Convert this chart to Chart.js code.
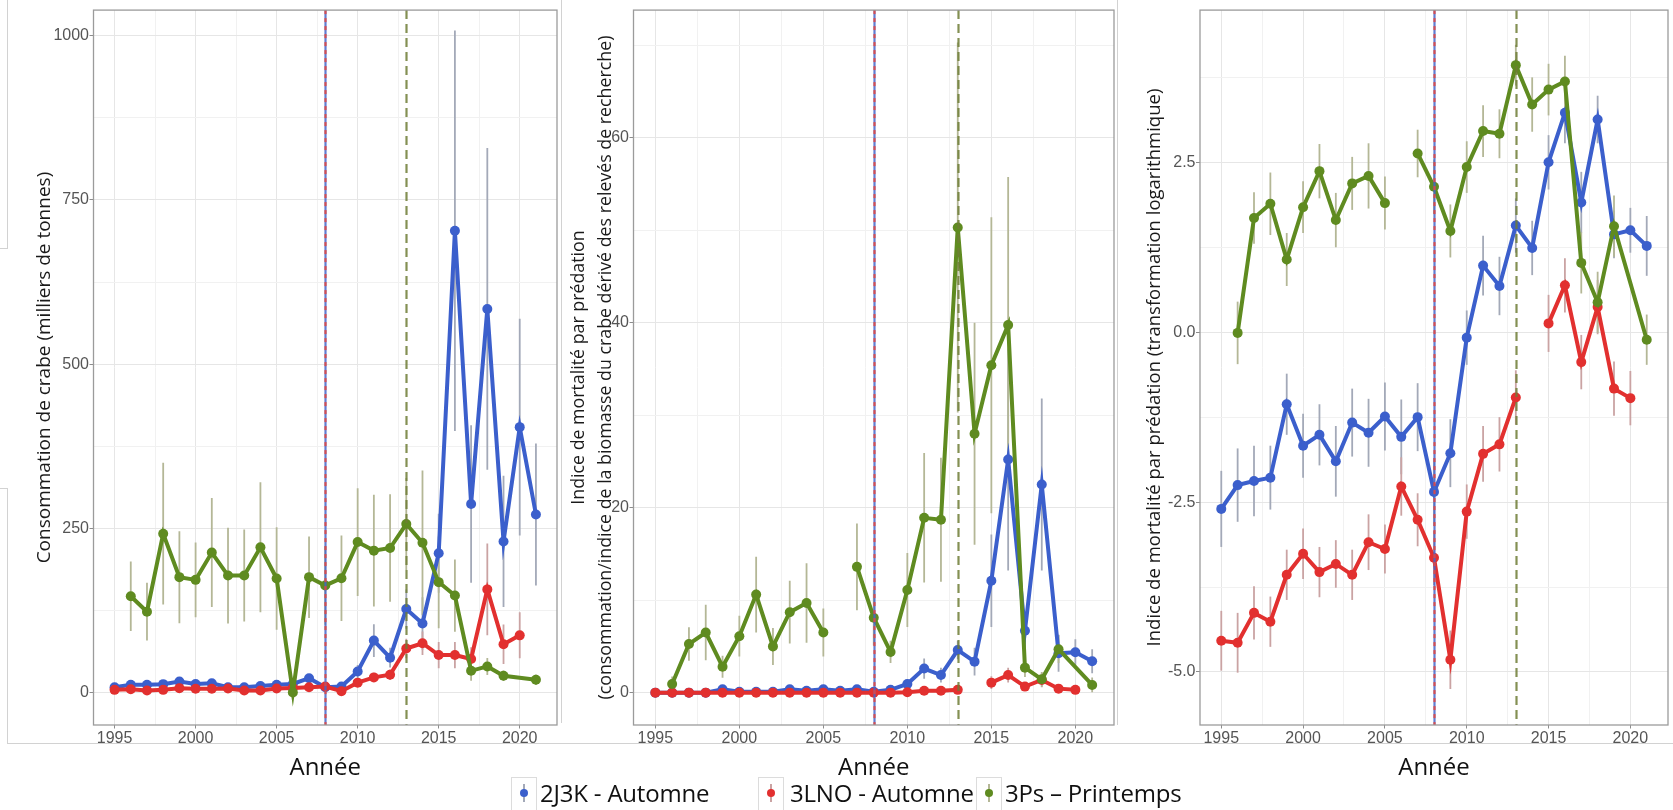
<!DOCTYPE html>
<html>
<head>
<meta charset="utf-8">
<script src="https://cdn.jsdelivr.net/npm/chart.js@4.4.0/dist/chart.umd.min.js"></script>
<style>
  html, body { margin: 0; padding: 0; background: #fff; }
  #page { position: relative; width: 1673px; height: 810px; overflow: hidden; font-family: 'Open Sans', sans-serif; }
  canvas { position: absolute; top: 0; }
  .rule { position: absolute; background: #d2d2d2; }
  .key { position: absolute; top: 777px; height: 34px; border: 1px solid #dcdcdc; box-sizing: border-box; background: #fff; }
  .key .bar { position: absolute; width: 2px; top: 6px; height: 18px; margin-left: -1px; }
  .key .dot { position: absolute; width: 8px; height: 8px; top: 11px; margin-left: -4px; border-radius: 50%; }
  .key-label { position: absolute; top: 781px; font-size: 24px; line-height: 24px; letter-spacing: -0.2px; color: #111; white-space: nowrap; }
</style>
</head>
<body>
<div id="page">
  <!-- image borders around the three panels -->
  <div class="rule" style="left:7px; top:0; width:1px; height:248px"></div>
  <div class="rule" style="left:0; top:248px; width:8px; height:1px"></div>
  <div class="rule" style="left:0; top:488px; width:8px; height:1px"></div>
  <div class="rule" style="left:7px; top:488px; width:1px; height:256px"></div>
  <div class="rule" style="left:7px; top:743px; width:1666px; height:1px"></div>
  <div class="rule" style="left:561px; top:0; width:1px; height:723px"></div>
  <div class="rule" style="left:1117px; top:0; width:1px; height:725px"></div>

  <canvas id="consommation" width="562" height="790" style="left:0"></canvas>
  <canvas id="mortalite" width="557" height="790" style="left:562px"></canvas>
  <canvas id="logMortalite" width="555" height="790" style="left:1118px"></canvas>

  <div id="legend"></div>
</div>

<script>
// Années de relevé par série (3Ps : pas de relevé en 2020)
const yearsBlue = [1995, 1996, 1997, 1998, 1999, 2000, 2001, 2002, 2003, 2004, 2005, 2006, 2007, 2008,
  2009, 2010, 2011, 2012, 2013, 2014, 2015, 2016, 2017, 2018, 2019, 2020, 2021];
const yearsRed = [1995, 1996, 1997, 1998, 1999, 2000, 2001, 2002, 2003, 2004, 2005, 2006, 2007, 2008,
  2009, 2010, 2011, 2012, 2013, 2014, 2015, 2016, 2017, 2018, 2019, 2020];
const yearsGreen = [1996, 1997, 1998, 1999, 2000, 2001, 2002, 2003, 2004, 2005, 2006, 2007, 2008,
  2009, 2010, 2011, 2012, 2013, 2014, 2015, 2016, 2017, 2018, 2019, 2021];

// Consommation de crabe (milliers de tonnes) et demi-intervalles
const consBlue = [8, 11.7, 11.7, 12.7, 16.7, 13, 14, 8, 8, 10, 11.7, 13, 21.8, 8, 9, 32, 79, 53, 127, 105,
  212, 703, 287, 584, 230, 404, 271];
const consBlueErr = [3, 4, 4, 4, 5, 4, 5, 3, 3, 3, 4, 4, 6, 3, 4, 10, 25, 15, 30, 40, 60, 305, 120, 245, 100, 165, 108];
const consRed = [4, 5, 3, 4, 6.6, 5.6, 5.6, 6, 3, 3, 6, 7, 8, 9, 2, 15, 23, 27, 67, 75, 57, 57, 51, 157, 73.5, 87];
const consRedErr = [2, 2, 2, 2, 2, 2, 2, 2, 2, 2, 2, 2, 3, 3, 2, 5, 7, 8, 15, 18, 20, 20, 18, 70, 30, 35];
const consGreen = [146.6, 123, 241.8, 175.6, 171.5, 213, 178, 178, 221, 173.6, 0, 175.6, 163, 174, 229, 216,
  220, 256.5, 228, 168, 147.6, 33, 39.7, 25.5, 19.3];
const consGreenErr = [53, 44, 108, 70, 57, 83, 73, 70, 99, 78, 0, 62, 60, 65, 82, 85, 82, 70, 110, 70, 55, 15, 13, 8, 8];

// Indice de mortalité par prédation
const mortBlue = [0, 0, 0, 0, 0.36, 0.1, 0.1, 0.1, 0.36, 0.2, 0.36, 0.2, 0.36, 0.1, 0.3, 0.94, 2.6, 1.9, 4.6,
  3.35, 12.1, 25.2, 6.7, 22.5, 4.25, 4.36, 3.4];
const mortBlueErr = [0.1, 0.1, 0.1, 0.1, 0.2, 0.1, 0.1, 0.1, 0.2, 0.1, 0.2, 0.1, 0.2, 0.1, 0.2, 0.5, 1.1, 0.8, 1,
  1.5, 5, 12, 2, 9.3, 2, 1.4, 1.3];
const mortRed = [0, 0, 0, 0, 0, 0, 0, 0, 0, 0, 0, 0, 0, 0, 0, 0.05, 0.2, 0.2, 0.3, null, 1.08, 1.9, 0.65, 1.37, 0.43, 0.3];
const mortRedErr = [0.05, 0.05, 0.05, 0.05, 0.05, 0.05, 0.05, 0.05, 0.05, 0.05, 0.05, 0.05, 0.05, 0.05, 0.05,
  0.05, 0.1, 0.1, 0.1, null, 0.7, 0.8, 0.4, 0.8, 0.3, 0.2];
const mortGreen = [0.94, 5.26, 6.5, 2.8, 6.1, 10.6, 5.0, 8.7, 9.7, 6.5, null, 13.6, 8.1, 4.4, 11.1, 18.9, 18.7,
  50.3, 28.0, 35.4, 39.75, 2.7, 1.44, 4.7, 0.83];
const mortGreenErr = [0.8, 1.8, 3, 1.2, 2.2, 4.1, 2.0, 3.4, 4.3, 2.6, null, 4.7, 3, 1.2, 4, 7, 6.7, 20, 12, 16, 16,
  1, 0.8, 1.5, 0.8];

// Indice de mortalité, transformation logarithmique
const logBlue = [-2.60, -2.25, -2.19, -2.14, -1.06, -1.67, -1.51, -1.90, -1.33, -1.48, -1.24, -1.54, -1.25, -2.35,
  -1.78, -0.08, 0.98, 0.68, 1.57, 1.24, 2.50, 3.23, 1.91, 3.13, 1.44, 1.50, 1.27];
const logBlueErr = [0.56, 0.54, 0.52, 0.47, 0.45, 0.47, 0.45, 0.52, 0.5, 0.5, 0.5, 0.55, 0.5, 0.5, 0.5, 0.4, 0.44,
  0.43, 0.4, 0.4, 0.4, 0.45, 0.45, 0.35, 0.35, 0.33, 0.44];
const logRed = [-4.54, -4.57, -4.13, -4.26, -3.57, -3.26, -3.53, -3.41, -3.57, -3.09, -3.19, -2.27, -2.76, -3.32,
  -4.82, -2.64, -1.79, -1.65, -0.96, null, 0.13, 0.69, -0.44, 0.37, -0.83, -0.97];
const logRedErr = [0.44, 0.44, 0.39, 0.37, 0.37, 0.37, 0.37, 0.35, 0.37, 0.41, 0.36, 0.43, 0.39, 0.4, 0.43, 0.4,
  0.41, 0.4, 0.4, null, 0.42, 0.4, 0.4, 0.4, 0.4, 0.4];
const logGreen = [-0.01, 1.68, 1.89, 1.07, 1.84, 2.37, 1.65, 2.19, 2.30, 1.90, null, 2.63, 2.14, 1.49, 2.43, 2.96,
  2.92, 3.93, 3.35, 3.57, 3.69, 1.02, 0.44, 1.56, -0.11];
const logGreenErr = [0.46, 0.38, 0.46, 0.39, 0.38, 0.4, 0.4, 0.39, 0.48, 0.39, null, 0.35, 0.4, 0.39, 0.38, 0.38,
  0.36, 0.3, 0.4, 0.38, 0.38, 0.45, 0.45, 0.45, 0.37];

// Graduations
const yearTicks = [1995, 2000, 2005, 2010, 2015, 2020];
const consTicks = [0, 250, 500, 750, 1000];
const mortTicks = [0, 20, 40, 60];
const logTicks = [-5.0, -2.5, 0.0, 2.5];

// Lignes verticales de référence
const solidLineYear = 2008;
const dashedLineYear = 2013;

const seriesNames = ['2J3K - Automne', '3LNO - Automne', '3Ps – Printemps'];

const BLUE = '#3b5fcc', RED = '#e2302f', GREEN = '#5f8b20';
const BLUE_ERR = '#a3a9b8', RED_ERR = '#caa3a3', GREEN_ERR = '#b4b796';
const X_MIN = 1993.7, X_MAX = 2022.3;
const TEXT_FONT = "'Open Sans', sans-serif";
const TICK_FONT = { family: "'Liberation Sans', Arial, sans-serif", size: 16 };
const TICK_COLOR = '#555555';

// major ticks + minor ones halfway between, kept inside [min, max]
function gridValues(majors, min, max) {
  const half = (majors[1] - majors[0]) / 2;
  const out = [];
  for (let v = majors[0] - half; v <= majors[majors.length - 1] + half + 1e-9; v += half) {
    const r = Math.round(v * 1000) / 1000;
    if (r >= min && r <= max) out.push(r);
  }
  return out;
}

function isMajor(v, majors) {
  return majors.some(m => Math.abs(m - v) < 1e-6);
}

function series(label, years, values, errors, color, errColor, order) {
  return {
    label, order,
    data: years.map((x, i) => ({ x, y: values[i] })),
    errors, errorColor: errColor,
    borderColor: color, backgroundColor: color,
    pointBackgroundColor: color,
    spanGaps: false
  };
}

const errorBars = {
  id: 'errorBars',
  beforeDatasetsDraw(chart) {
    const { ctx, chartArea: a } = chart;
    const x = chart.scales.x, y = chart.scales.y;
    ctx.save();
    ctx.beginPath();
    ctx.rect(a.left, a.top, a.right - a.left, a.bottom - a.top);
    ctx.clip();
    chart.data.datasets.forEach(ds => {
      ctx.strokeStyle = ds.errorColor;
      ctx.lineWidth = 1.8;
      ds.data.forEach((p, i) => {
        const e = ds.errors[i];
        if (p.y == null || e == null || e === 0) return;
        const px = x.getPixelForValue(p.x);
        ctx.beginPath();
        ctx.moveTo(px, y.getPixelForValue(p.y - e));
        ctx.lineTo(px, y.getPixelForValue(p.y + e));
        ctx.stroke();
      });
    });
    ctx.restore();
  }
};

const refLines = {
  id: 'refLines',
  afterDatasetsDraw(chart) {
    const { ctx, chartArea: a } = chart;
    const x = chart.scales.x;
    const draw = (year, color, dash, width) => {
      const px = Math.round(x.getPixelForValue(year)) + 0.5;
      ctx.strokeStyle = color;
      ctx.lineWidth = width;
      ctx.setLineDash(dash);
      ctx.beginPath();
      ctx.moveTo(px, a.top);
      ctx.lineTo(px, a.bottom);
      ctx.stroke();
    };
    ctx.save();
    ctx.globalAlpha = 0.85;
    draw(solidLineYear, '#4566c9', [], 2.2);
    draw(solidLineYear, '#e8473d', [4, 4], 2.2);
    draw(dashedLineYear, '#6e7d35', [9, 5], 2.2);
    ctx.restore();
  }
};

const frame = {
  id: 'frame',
  afterDraw(chart) {
    const { ctx, chartArea: a } = chart;
    ctx.save();
    ctx.strokeStyle = '#9b9b9b';
    ctx.lineWidth = 1.3;
    ctx.strokeRect(a.left, a.top, a.right - a.left, a.bottom - a.top);
    ctx.restore();
  }
};

function makePanel(id, cfg) {
  const xGrid = gridValues(yearTicks, X_MIN, X_MAX);
  const yGrid = gridValues(cfg.ticks, cfg.min, cfg.max);
  const gridColor = majors => c => isMajor(c.tick.value, majors) ? '#e6e6e6' : '#f1f1f1';
  const markColor = majors => c => isMajor(c.tick.value, majors) ? '#8c8c8c' : 'rgba(0,0,0,0)';

  return new Chart(document.getElementById(id), {
    type: 'line',
    data: { datasets: cfg.datasets },
    options: {
      responsive: false,
      animation: false,
      events: [],
      layout: { padding: { top: 10, right: cfg.padRight, left: 0, bottom: 0 } },
      plugins: { legend: { display: false }, tooltip: { enabled: false } },
      elements: {
        line: { borderWidth: 4, tension: 0 },
        point: { radius: 5, borderWidth: 0 }
      },
      scales: {
        x: {
          type: 'linear', min: X_MIN, max: X_MAX,
          afterBuildTicks: s => { s.ticks = xGrid.map(v => ({ value: v })); },
          afterFit: s => { s.height = 65; },
          ticks: {
            autoSkip: false, maxRotation: 0, padding: 0,
            color: TICK_COLOR, font: TICK_FONT,
            callback: v => isMajor(v, yearTicks) ? String(Math.round(v)) : ''
          },
          grid: { color: gridColor(yearTicks), tickColor: markColor(yearTicks), tickLength: 3.5, lineWidth: 1 },
          border: { display: false },
          title: {
            display: true, text: 'Année', color: '#111',
            font: { family: TEXT_FONT, size: 24 },
            padding: { top: 0, bottom: 7.5 }
          }
        },
        y: {
          type: 'linear', min: cfg.min, max: cfg.max,
          afterBuildTicks: s => { s.ticks = yGrid.map(v => ({ value: v })); },
          afterFit: s => { s.width = cfg.axisWidth; },
          ticks: {
            autoSkip: false, padding: 0.5,
            color: TICK_COLOR, font: TICK_FONT,
            callback: v => isMajor(v, cfg.ticks) ? cfg.format(v) : ''
          },
          grid: { color: gridColor(cfg.ticks), tickColor: markColor(cfg.ticks), tickLength: 4, lineWidth: 1 },
          border: { display: false },
          title: {
            display: true, text: cfg.title, color: '#1a1a1a',
            font: { family: TEXT_FONT, size: cfg.titleSize, lineHeight: cfg.titleLineHeight },
            padding: { top: cfg.titlePad, bottom: 0 }
          }
        }
      }
    },
    plugins: [errorBars, refLines, frame]
  });
}

makePanel('consommation', {
  min: -49.5, max: 1039, ticks: consTicks, format: v => String(v),
  axisWidth: 93.5, padRight: 2, titlePad: 33.6, titleSize: 19, titleLineHeight: 1.2,
  title: 'Consommation de crabe (milliers de tonnes)',
  datasets: [
    series(seriesNames[0], yearsBlue, consBlue, consBlueErr, BLUE, BLUE_ERR, 3),
    series(seriesNames[1], yearsRed, consRed, consRedErr, RED, RED_ERR, 2),
    series(seriesNames[2], yearsGreen, consGreen, consGreenErr, GREEN, GREEN_ERR, 1)
  ]
});

makePanel('mortalite', {
  min: -3.5, max: 73.8, ticks: mortTicks, format: v => String(v),
  axisWidth: 71.5, padRight: 2.5, titlePad: 3.6, titleSize: 17.8, titleLineHeight: 1.5,
  title: ['Indice de mortalité par prédation',
    '(consommation/indice de la biomasse du crabe dérivé des relevés de recherche)'],
  datasets: [
    series(seriesNames[0], yearsBlue, mortBlue, mortBlueErr, BLUE, BLUE_ERR, 3),
    series(seriesNames[1], yearsRed, mortRed, mortRedErr, RED, RED_ERR, 2),
    series(seriesNames[2], yearsGreen, mortGreen, mortGreenErr, GREEN, GREEN_ERR, 1)
  ]
});

makePanel('logMortalite', {
  min: -5.78, max: 4.74, ticks: logTicks, format: v => v.toFixed(1),
  axisWidth: 82, padRight: 1, titlePad: 25.9, titleSize: 18.5, titleLineHeight: 1.2,
  title: 'Indice de mortalité par prédation (transformation logarithmique)',
  datasets: [
    series(seriesNames[0], yearsBlue, logBlue, logBlueErr, BLUE, BLUE_ERR, 3),
    series(seriesNames[1], yearsRed, logRed, logRedErr, RED, RED_ERR, 2),
    series(seriesNames[2], yearsGreen, logGreen, logGreenErr, GREEN, GREEN_ERR, 1)
  ]
});

// Légende commune sous les trois panneaux
const legendKeys = [
  { box: 511, text: 540, color: BLUE, err: BLUE_ERR },
  { box: 758, text: 790, color: RED, err: RED_ERR },
  { box: 976, text: 1005, color: GREEN, err: GREEN_ERR }
];
const legend = document.getElementById('legend');
legendKeys.forEach((k, i) => {
  const box = document.createElement('div');
  box.className = 'key';
  box.style.left = k.box + 'px';
  box.style.width = '26px';
  box.innerHTML = '<div class="bar" style="left:12px; background:' + k.err + '"></div>' +
    '<div class="dot" style="left:12px; background:' + k.color + '"></div>';
  legend.appendChild(box);
  const label = document.createElement('div');
  label.className = 'key-label';
  label.style.left = k.text + 'px';
  label.textContent = seriesNames[i];
  legend.appendChild(label);
});
</script>
</body>
</html>
